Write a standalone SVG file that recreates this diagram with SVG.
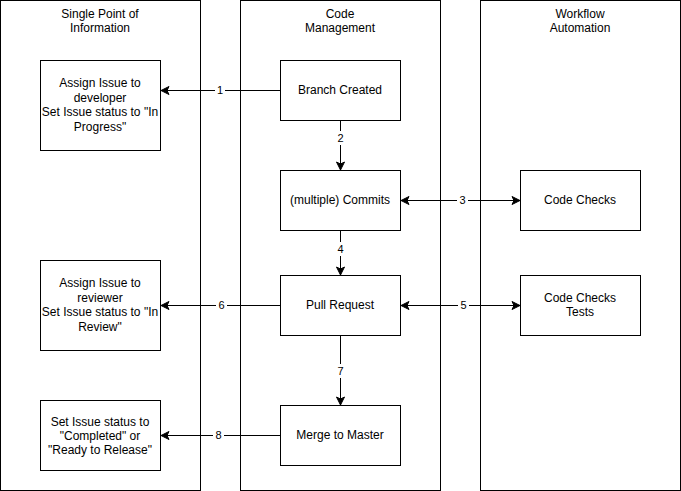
<svg xmlns="http://www.w3.org/2000/svg" width="681" height="491" viewBox="0 0 681 491">
<style>
.box{fill:#fff;stroke:#000;stroke-width:1}
.t{font-family:"Liberation Sans",Arial,sans-serif;font-size:12px;fill:#000;text-anchor:middle}
.e{stroke:#000;stroke-width:1;fill:none}
.lbl{font-family:"Liberation Sans",Arial,sans-serif;font-size:11px;fill:#000;text-anchor:middle}
.lb{fill:#fff}
</style>
<defs>
<marker id="ah" viewBox="0 0 10 10" refX="9" refY="5" markerWidth="10" markerHeight="10" markerUnits="userSpaceOnUse" orient="auto-start-reverse">
<path d="M1,1 L9,5 L1,9 L3,5 Z" fill="#000" stroke="#000" stroke-width="1"/>
</marker>
</defs>
<rect width="681" height="491" fill="#fff"/>
<g id="col-spoi"><rect class="box" x="0.5" y="0.5" width="200" height="490"/><text class="t" x="100" y="18">Single Point of</text><text class="t" x="100" y="32">Information</text></g>
<g id="col-code"><rect class="box" x="240.5" y="0.5" width="200" height="490"/><text class="t" x="340" y="18">Code</text><text class="t" x="340" y="32">Management</text></g>
<g id="col-wf"><rect class="box" x="480.5" y="0.5" width="200" height="490"/><text class="t" x="580" y="18">Workflow</text><text class="t" x="580" y="32">Automation</text></g>

<g id="assign-dev"><rect class="box" x="40.5" y="60.5" width="120" height="90"/><text class="t" x="100" y="87">Assign Issue to</text><text class="t" x="100" y="102">developer</text><text class="t" x="100" y="116">Set Issue status to "In</text><text class="t" x="100" y="131">Progress"</text></g>
<g id="assign-rev"><rect class="box" x="40.5" y="260.5" width="120" height="90"/><text class="t" x="100" y="287">Assign Issue to</text><text class="t" x="100" y="302">reviewer</text><text class="t" x="100" y="316">Set Issue status to "In</text><text class="t" x="100" y="331">Review"</text></g>
<g id="set-completed"><rect class="box" x="40.5" y="400.5" width="120" height="70"/><text class="t" x="100" y="426">Set Issue status to</text><text class="t" x="100" y="440">"Completed" or</text><text class="t" x="100" y="454">"Ready to Release"</text></g>

<g id="branch"><rect class="box" x="280.5" y="60.5" width="120" height="60"/><text class="t" x="340" y="94">Branch Created</text></g>
<g id="commits"><rect class="box" x="280.5" y="170.5" width="120" height="60"/><text class="t" x="340" y="204">(multiple) Commits</text></g>
<g id="pr"><rect class="box" x="280.5" y="275.5" width="120" height="60"/><text class="t" x="340" y="309">Pull Request</text></g>
<g id="merge"><rect class="box" x="280.5" y="405.5" width="120" height="60"/><text class="t" x="340" y="439">Merge to Master</text></g>

<g id="checks"><rect class="box" x="520.5" y="170.5" width="120" height="60"/><text class="t" x="580" y="204">Code Checks</text></g>
<g id="checks-tests"><rect class="box" x="520.5" y="275.5" width="120" height="60"/><text class="t" x="580" y="302">Code Checks</text><text class="t" x="580" y="316">Tests</text></g>

<g id="connectors">
<path class="e" d="M280.5,90.5 H161" marker-end="url(#ah)"/>
<rect class="lb" x="215" y="83" width="10" height="14"/><text class="lbl" x="220" y="94">1</text>
<path class="e" d="M340.5,120.5 V170" marker-end="url(#ah)"/>
<rect class="lb" x="335" y="131" width="10" height="14"/><text class="lbl" x="340.5" y="142">2</text>
<path class="e" d="M401,200.5 H520" marker-start="url(#ah)" marker-end="url(#ah)"/>
<rect class="lb" x="457" y="193" width="11" height="14"/><text class="lbl" x="462.5" y="204">3</text>
<path class="e" d="M340.5,230.5 V275" marker-end="url(#ah)"/>
<rect class="lb" x="335" y="242" width="10" height="14"/><text class="lbl" x="340.5" y="253">4</text>
<path class="e" d="M401,305.5 H520" marker-start="url(#ah)" marker-end="url(#ah)"/>
<rect class="lb" x="458" y="298" width="11" height="14"/><text class="lbl" x="463.5" y="309">5</text>
<path class="e" d="M280.5,305.5 H161" marker-end="url(#ah)"/>
<rect class="lb" x="216" y="298" width="11" height="14"/><text class="lbl" x="221.5" y="309">6</text>
<path class="e" d="M340.5,335.5 V405" marker-end="url(#ah)"/>
<rect class="lb" x="335" y="364" width="10" height="14"/><text class="lbl" x="340.5" y="375">7</text>
<path class="e" d="M280.5,435.5 H161" marker-end="url(#ah)"/>
<rect class="lb" x="213" y="428" width="11" height="14"/><text class="lbl" x="218.5" y="439">8</text>
</g>
</svg>
